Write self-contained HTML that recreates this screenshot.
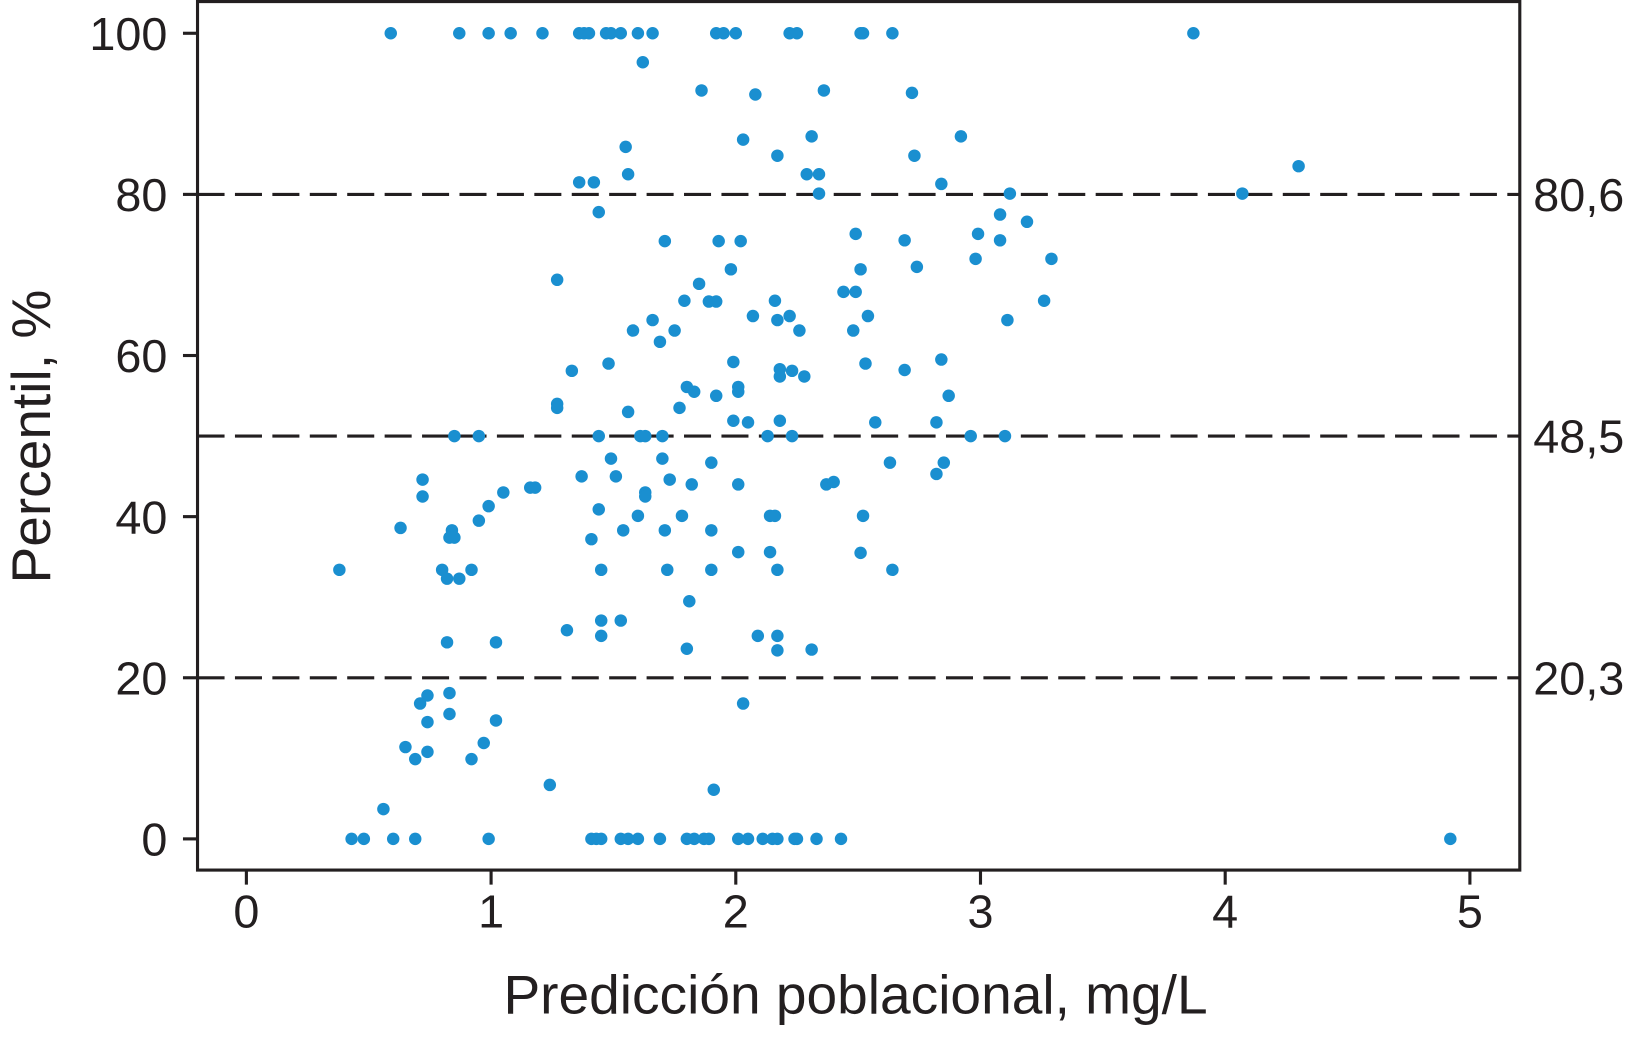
<!DOCTYPE html>
<html><head><meta charset="utf-8"><style>
html,body{margin:0;padding:0;background:#fff;}
svg{display:block;font-family:"Liberation Sans",Arial,sans-serif;}
</style></head><body>
<svg id="chart" width="1630" height="1039" viewBox="0 0 1568 999.5" xmlns="http://www.w3.org/2000/svg">
<rect x="0" y="0" width="1568" height="1000" fill="#fff"/>
<g id="grid"></g>
<g id="dots"></g>
<rect x="190" y="1.5" width="1272" height="835.5" fill="none" stroke="#231f20" stroke-width="3"/>
<g id="axes"></g>
<text x="823" y="975" font-size="53" text-anchor="middle" fill="#231f20">Predicción poblacional, mg/L</text>
<text transform="translate(48,420) rotate(-90)" font-size="53" text-anchor="middle" fill="#231f20">Percentil, %</text>
</svg>
<script>
const xTicks=[0,1,2,3,4,5];
const yTicks=[0,20,40,60,80,100];
const refLines=[20,50,80];
const refLabels=["20,3","48,5","80,6"];
const xs=[0.59,0.87,0.99,1.08,1.21,1.36,1.38,1.40,1.47,1.49,1.53,1.60,1.66,1.92,1.95,2.00,2.22,2.25,2.51,2.52,2.64,3.87,
0.43,0.48,0.60,0.69,0.99,1.41,1.43,1.45,1.53,1.56,1.60,1.69,1.80,1.83,1.87,1.89,2.01,2.05,2.11,2.15,2.17,2.24,2.25,2.33,2.43,4.92,
1.62,1.86,2.08,2.36,2.72,1.55,2.03,2.31,2.92,2.17,2.73,1.56,2.29,2.34,4.30,1.36,1.42,2.84,2.34,3.12,4.07,1.44,3.08,3.19,2.49,2.99,
1.71,1.93,2.02,2.69,3.08,3.29,2.98,2.51,2.74,1.98,1.27,1.85,2.44,2.49,1.79,1.89,1.92,2.16,3.26,1.66,2.07,2.22,2.17,2.54,3.11,
1.58,1.75,2.26,2.48,1.69,1.33,1.48,1.99,2.18,2.23,2.53,2.69,2.84,2.18,2.28,1.27,1.27,1.80,1.83,2.01,2.01,1.92,2.87,1.77,1.56,
2.57,1.99,2.05,2.18,2.82,0.85,0.95,1.44,1.61,1.63,1.70,2.13,2.23,2.96,3.10,1.49,1.70,1.90,2.63,2.85,1.37,1.51,1.73,2.82,2.01,
2.37,2.40,1.82,0.72,0.72,1.05,1.16,1.18,1.63,1.63,0.99,1.44,1.60,1.78,2.14,2.16,2.52,0.95,0.63,0.84,1.54,1.71,1.90,0.83,0.85,
1.41,2.01,2.14,2.51,0.38,0.80,0.92,1.45,1.72,1.90,2.17,2.64,0.82,0.87,1.81,1.45,1.53,1.31,1.45,2.09,2.17,0.82,1.02,1.80,2.17,
2.31,0.83,0.74,0.71,2.03,0.83,1.02,0.74,0.97,0.65,0.74,0.69,0.92,1.24,1.91,0.56];
const ys=[100,100,100,100,100,100,100,100,100,100,100,100,100,100,100,100,100,100,100,100,100,100,
0,0,0,0,0,0,0,0,0,0,0,0,0,0,0,0,0,0,0,0,0,0,0,0,0,0,
96.4,92.9,92.4,92.9,92.6,85.9,86.8,87.2,87.2,84.8,84.8,82.5,82.5,82.5,83.5,81.5,81.5,81.3,80.1,80.1,80.1,77.8,77.5,76.6,75.1,75.1,
74.2,74.2,74.2,74.3,74.3,72.0,72.0,70.7,71.0,70.7,69.4,68.9,67.9,67.9,66.8,66.7,66.7,66.8,66.8,64.4,64.9,64.9,64.4,64.9,64.4,
63.1,63.1,63.1,63.1,61.7,58.1,59.0,59.2,58.3,58.1,59.0,58.2,59.5,57.4,57.4,54.0,53.5,56.1,55.5,56.1,55.5,55.0,55.0,53.5,53.0,
51.7,51.9,51.7,51.9,51.7,50,50,50,50,50,50,50,50,50,50,47.2,47.2,46.7,46.7,46.7,45.0,45.0,44.6,45.3,44.0,
44.0,44.3,44.0,44.6,42.5,43.0,43.6,43.6,43.0,42.5,41.3,40.9,40.1,40.1,40.1,40.1,40.1,39.5,38.6,38.3,38.3,38.3,38.3,37.4,37.4,
37.2,35.6,35.6,35.5,33.4,33.4,33.4,33.4,33.4,33.4,33.4,33.4,32.3,32.3,29.5,27.1,27.1,25.9,25.2,25.2,25.2,24.4,24.4,23.6,23.4,
23.5,18.1,17.8,16.8,16.8,15.5,14.7,14.5,11.9,11.4,10.8,9.9,9.9,6.7,6.1,3.7];
const NS="http://www.w3.org/2000/svg";
const X=v=>237+v*235.4;
const Y=v=>807-v*7.75;
function mk(tag,attrs,parent,text){const e=document.createElementNS(NS,tag);for(const k in attrs)e.setAttribute(k,attrs[k]);if(text!==undefined)e.textContent=text;document.getElementById(parent).appendChild(e);return e;}
refLines.forEach((v,i)=>{
  const l=mk('line',{x1:190,x2:1462,y1:Y(v),y2:Y(v),stroke:'#231f20','stroke-width':3,'stroke-dasharray':'26 10'},'grid');
  
  
  const t=mk('text',{x:1475,y:Y(v)+16,'font-size':45,fill:'#231f20'},'grid',refLabels[i]);
  
  
});
xs.forEach((x,i)=>{
  const c=mk('circle',{cx:X(x),cy:Y(ys[i]),r:6,fill:'#1a8fd0'},'dots');
  
  
});
xTicks.forEach(v=>{
  const l=mk('line',{x1:X(v),x2:X(v),y1:837,y2:851,stroke:'#231f20','stroke-width':3},'axes');
  
  
  const t=mk('text',{x:X(v),y:892,'font-size':45,'text-anchor':'middle',fill:'#231f20'},'axes',String(v));
  
  
});
yTicks.forEach(v=>{
  const l=mk('line',{x1:176,x2:190,y1:Y(v),y2:Y(v),stroke:'#231f20','stroke-width':3},'axes');
  
  
  const t=mk('text',{x:161,y:Y(v)+16,'font-size':45,'text-anchor':'end',fill:'#231f20'},'axes',String(v));
  
  
});
</script>
</body></html>
